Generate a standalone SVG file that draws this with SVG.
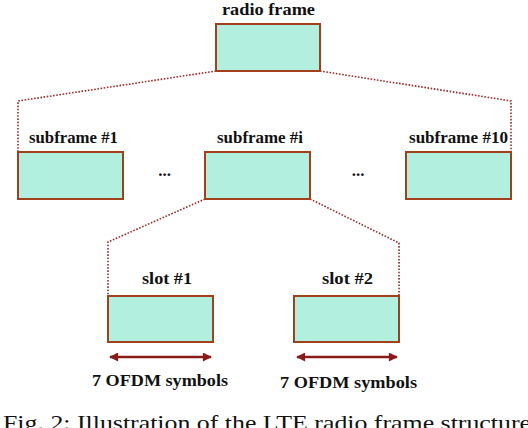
<svg xmlns="http://www.w3.org/2000/svg" width="528" height="428" viewBox="0 0 528 428">
  <defs>
    <style>
      .box { fill: #b3efdf; stroke: #a3401c; stroke-width: 2; }
      .dot { fill: none; stroke: #9b2a2a; stroke-width: 1.6; stroke-dasharray: 1.6 1.6; }
      .arr { fill: none; stroke: #8b1a1a; stroke-width: 2.5; }
      .lbl { font-family: "Liberation Serif", "Times New Roman", serif; font-weight: bold; font-size: 17px; fill: #111; text-anchor: middle; }
      .cap { font-family: "Liberation Serif", "Times New Roman", serif; font-size: 22px; fill: #111; }
    </style>
    <marker id="ah" viewBox="0 0 10 10" refX="9" refY="5" markerWidth="6" markerHeight="3.6" orient="auto-start-reverse" markerUnits="strokeWidth">
      <path d="M0,0 L10,5 L0,10 Z" fill="#8b1a1a"/>
    </marker>
  </defs>
  <rect width="528" height="428" fill="#ffffff"/>

  <g id="connectors">
    <polyline class="dot" points="216,71 18,101 18,152"/>
    <polyline class="dot" points="320,71 511,101 511,152"/>
    <polyline class="dot" points="205,199 108,242 108,296"/>
    <polyline class="dot" points="310,199 399,243 399,296"/>
    <line class="arr" x1="110" y1="357" x2="211" y2="357" marker-start="url(#ah)" marker-end="url(#ah)"/>
    <line class="arr" x1="297" y1="357" x2="397" y2="357" marker-start="url(#ah)" marker-end="url(#ah)"/>
  </g>

  <g id="radio-frame">
    <rect class="box" x="216" y="24" width="104" height="47"/>
    <text class="lbl" x="268.5" y="15" textLength="93" lengthAdjust="spacingAndGlyphs">radio frame</text>
  </g>
  <g id="subframe-1">
    <rect class="box" x="18" y="152" width="105" height="47"/>
    <text class="lbl" x="73.5" y="143" textLength="89" lengthAdjust="spacingAndGlyphs">subframe #1</text>
  </g>
  <g id="subframe-i">
    <rect class="box" x="205" y="152" width="105" height="47"/>
    <text class="lbl" x="260" y="143" textLength="86" lengthAdjust="spacingAndGlyphs">subframe #i</text>
  </g>
  <g id="subframe-10">
    <rect class="box" x="406" y="152" width="105" height="47"/>
    <text class="lbl" x="458.5" y="143" textLength="99" lengthAdjust="spacingAndGlyphs">subframe #10</text>
  </g>
  <g id="ellipses">
    <text class="lbl" x="164.5" y="176">...</text>
    <text class="lbl" x="358" y="176">...</text>
  </g>
  <g id="slot-1">
    <rect class="box" x="108" y="296" width="105" height="46"/>
    <text class="lbl" x="167" y="284" textLength="50" lengthAdjust="spacingAndGlyphs">slot #1</text>
    <text class="lbl" x="160" y="386" textLength="136" lengthAdjust="spacingAndGlyphs">7 OFDM symbols</text>
  </g>
  <g id="slot-2">
    <rect class="box" x="294" y="296" width="105" height="46"/>
    <text class="lbl" x="347.5" y="284" textLength="51" lengthAdjust="spacingAndGlyphs">slot #2</text>
    <text class="lbl" x="348.5" y="388" textLength="137" lengthAdjust="spacingAndGlyphs">7 OFDM symbols</text>
  </g>

  <text class="cap" x="3" y="430" textLength="528" lengthAdjust="spacingAndGlyphs">Fig. 2: Illustration of the LTE radio frame structure</text>
</svg>
